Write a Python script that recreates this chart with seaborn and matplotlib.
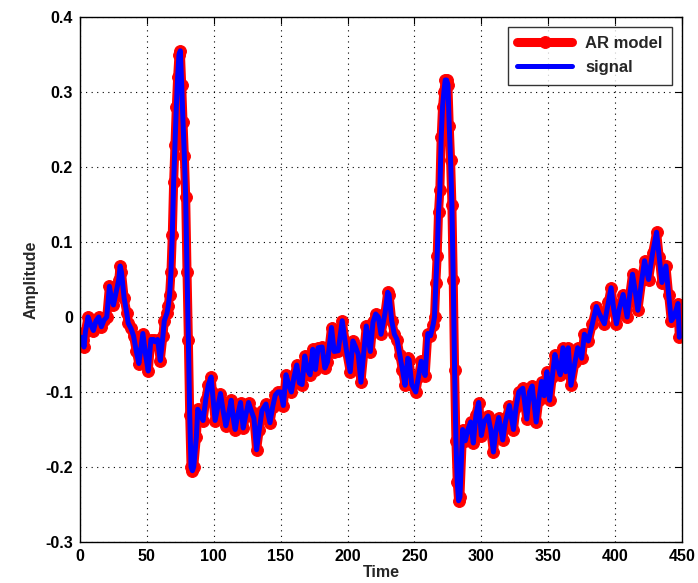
import matplotlib
matplotlib.use("Agg")
import matplotlib.pyplot as plt
import seaborn as sns
import numpy as np
import pandas as pd

# values (time, amplitude)
time = [1, 2, 3, 4, 6, 8, 10, 12, 14, 16, 18, 20, 22, 23, 25, 27, 29, 30, 31, 33,
        35, 36, 38, 40, 42, 44, 46, 47, 49, 51, 53, 55, 56, 58, 60, 62, 63, 65, 66, 67,
        68, 69, 70, 71, 72, 73, 74, 75, 76, 77, 78, 79, 80, 81, 82, 83, 84, 85, 87, 88,
        90, 92, 94, 96, 98, 99, 101, 103, 105, 107, 109, 111, 113, 115, 116, 118, 120, 122, 124, 126,
        128, 130, 132, 134, 136, 139, 142, 144, 146, 148, 150, 152, 154, 156, 158, 160, 162, 164, 166, 168,
        170, 172, 174, 176, 178, 181, 183, 185, 188, 190, 193, 196, 199, 202, 204, 206, 208, 210, 214, 217,
        219, 221, 223, 225, 228, 230, 231, 233, 235, 237, 239, 241, 243, 245, 246, 248, 251, 253, 255, 258,
        260, 262, 264, 265, 266, 267, 268, 269, 270, 271, 272, 273, 274, 275, 276, 277, 278, 279, 280, 281,
        282, 283, 284, 286, 288, 290, 292, 294, 296, 298, 300, 302, 305, 307, 309, 311, 313, 316, 318, 321,
        324, 326, 328, 331, 334, 336, 338, 341, 343, 345, 347, 349, 351, 353, 355, 357, 359, 361, 363, 365,
        367, 370, 372, 375, 377, 380, 383, 386, 388, 392, 395, 397, 399, 401, 403, 406, 409, 411, 413, 415,
        417, 420, 422, 425, 428, 431, 433, 435, 438, 440, 442, 444, 447, 448]

signal = [-0.027, -0.03, -0.04, -0.02, 0.0, -0.01, -0.018, -0.005, 0.0, -0.013, -0.004, 0.0, 0.041, 0.03, 0.016, 0.033, 0.05, 0.068, 0.06, 0.025,
          0.005, -0.008, -0.015, -0.025, -0.045, -0.062, -0.035, -0.022, -0.05, -0.072, -0.03, -0.03, -0.033, -0.03, -0.058, -0.025, -0.005, 0.005, 0.015, 0.03,
          0.06, 0.11, 0.18, 0.23, 0.28, 0.32, 0.35, 0.355, 0.31, 0.26, 0.215, 0.16, 0.06, -0.03, -0.13, -0.2, -0.205, -0.2, -0.16, -0.123,
          -0.13, -0.138, -0.11, -0.09, -0.08, -0.1, -0.138, -0.12, -0.102, -0.125, -0.145, -0.13, -0.111, -0.14, -0.15, -0.13, -0.114, -0.148, -0.13, -0.114,
          -0.125, -0.135, -0.177, -0.15, -0.125, -0.116, -0.141, -0.12, -0.104, -0.1, -0.1, -0.118, -0.077, -0.09, -0.1, -0.08, -0.064, -0.088, -0.09, -0.052,
          -0.07, -0.077, -0.043, -0.07, -0.041, -0.04, -0.068, -0.06, -0.014, -0.046, -0.045, -0.005, -0.043, -0.073, -0.032, -0.04, -0.05, -0.087, -0.012, -0.046,
          -0.007, 0.004, 0.0, -0.023, 0.005, 0.033, 0.03, -0.005, -0.023, -0.03, -0.05, -0.07, -0.091, -0.055, -0.057, -0.09, -0.1, -0.08, -0.059, -0.078,
          -0.022, -0.025, -0.01, 0.0, 0.045, 0.082, 0.14, 0.17, 0.24, 0.28, 0.3, 0.316, 0.316, 0.31, 0.255, 0.21, 0.15, 0.05, -0.07, -0.165,
          -0.22, -0.245, -0.24, -0.15, -0.165, -0.15, -0.14, -0.168, -0.13, -0.114, -0.158, -0.14, -0.132, -0.15, -0.18, -0.15, -0.134, -0.164, -0.14, -0.118,
          -0.15, -0.12, -0.1, -0.095, -0.136, -0.1, -0.092, -0.14, -0.11, -0.086, -0.105, -0.073, -0.111, -0.08, -0.05, -0.065, -0.077, -0.041, -0.073, -0.041,
          -0.091, -0.06, -0.041, -0.055, -0.023, -0.032, -0.009, 0.014, 0.005, -0.009, 0.02, 0.039, 0.01, -0.009, 0.01, 0.03, 0.0, 0.03, 0.057, 0.035,
          0.009, 0.05, 0.075, 0.05, 0.085, 0.113, 0.08, 0.046, 0.068, 0.03, -0.005, 0.0, 0.018, -0.027]

# the AR model output sits on top of the signal
ar_model = list(signal)

xticks = [0, 50, 100, 150, 200, 250, 300, 350, 400, 450]
yticks = [-0.3, -0.2, -0.1, 0, 0.1, 0.2, 0.3, 0.4]
ytick_labels = ["-0.3", "-0.2", "-0.1", "0", "0.1", "0.2", "0.3", "0.4"]

df = pd.DataFrame({"Time": time, "AR model": ar_model, "signal": signal})

sns.set_style("white")
plt.rcParams["font.family"] = ["Liberation Sans", "DejaVu Sans"]
plt.rcParams["font.weight"] = "bold"

fig = plt.figure(figsize=(6.98, 5.83), dpi=100)
ax = fig.add_axes([80 / 698, 41 / 583, 602 / 698, 525 / 583])

sns.lineplot(data=df, x="Time", y="AR model", ax=ax, color="red", linewidth=6.5,
             marker="o", markersize=8.5, markeredgecolor="red", label="AR model")
sns.lineplot(data=df, x="Time", y="signal", ax=ax, color="blue", linewidth=3.6,
             label="signal")

ax.set_xlim(0, 450)
ax.set_ylim(-0.3, 0.4)
ax.set_xticks(xticks)
ax.set_yticks(yticks)
ax.set_yticklabels(ytick_labels)
ax.tick_params(direction="in", top=True, right=True, length=5, width=0.8,
               labelsize=11.5, colors="black", pad=5)
for lab in ax.get_xticklabels() + ax.get_yticklabels():
    lab.set_fontweight("bold")
ax.grid(True, color="black", linestyle=(0, (1, 4)), linewidth=0.8)
for sp in ax.spines.values():
    sp.set_visible(True)
    sp.set_color("black")
    sp.set_linewidth(1.0)

ax.set_xlabel("Time", fontsize=11.5, fontweight="bold", labelpad=1)
ax.set_ylabel("Amplitude", fontsize=11.5, fontweight="bold", labelpad=5)

leg = ax.legend(loc="upper right", fontsize=12, frameon=True, fancybox=False,
                edgecolor="black", borderaxespad=0.6, handlelength=3.3,
                borderpad=0.55, labelspacing=0.55)
leg.get_frame().set_linewidth(1.0)
for t in leg.get_texts():
    t.set_fontweight("bold")

fig.savefig("out.png", dpi=100, facecolor="white")
